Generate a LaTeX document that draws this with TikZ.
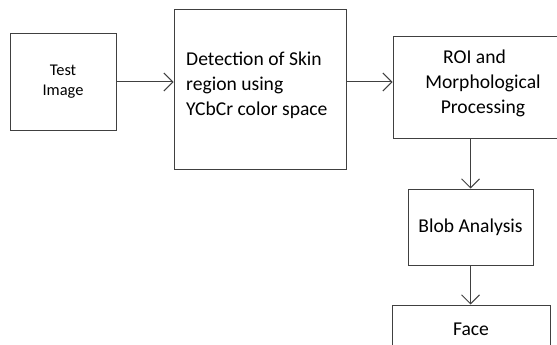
\documentclass[tikz,border=0pt]{standalone}
\usepackage{fontspec}
\setmainfont{Carlito}
\usetikzlibrary{arrows.meta}
\tikzset{>={Straight Barb[length=9pt,width=18pt]}}
\tikzset{
  blk/.style = {draw=black!75, line width=1pt, inner sep=0pt},
  txt/.style = {inner sep=0pt, font=\fontsize{19.6}{25}\selectfont},
  conn/.style = {->, draw=black!75, line width=1pt}
}

\begin{document}
\begin{tikzpicture}[x=1pt, y=-1pt]
    \clip (0,0) rectangle (557,345);
    \node[blk, minimum width=106pt, minimum height=96pt, align=center,
          font=\fontsize{16.4}{20}\selectfont] (test) at (63,82) {Test\\Image};
    \node[blk, minimum width=172pt, minimum height=159pt] (det) at (260,89.5) {};
    \node[txt, anchor=west, align=left] (dettxt) at (186,85)
        {Detection of Skin\\region using\\YCbCr color space};
    \node[blk, minimum width=184pt, minimum height=101pt] (roi) at (485,87.5) {};
    \node[txt, align=center] (roitxt) at (483,83.5) {ROI and\kern17pt\\Morphological\\Processing};
    \node[blk, txt, minimum width=125pt, minimum height=76pt] (blob) at (470.5,227) {Blob Analysis};
    \node[blk, txt, minimum width=158pt, minimum height=48pt] (face) at (471,329) {Face};
    \draw[conn] (test.east) -- (test.east -| det.west);
    \draw[conn] (det.east |- test.east) -- (roi.west |- test.east);
    \draw[conn] (roi.south -| blob.north) -- (blob.north);
    \draw[conn] (blob.south) -- (blob.south |- face.north);
\end{tikzpicture}
\end{document}
